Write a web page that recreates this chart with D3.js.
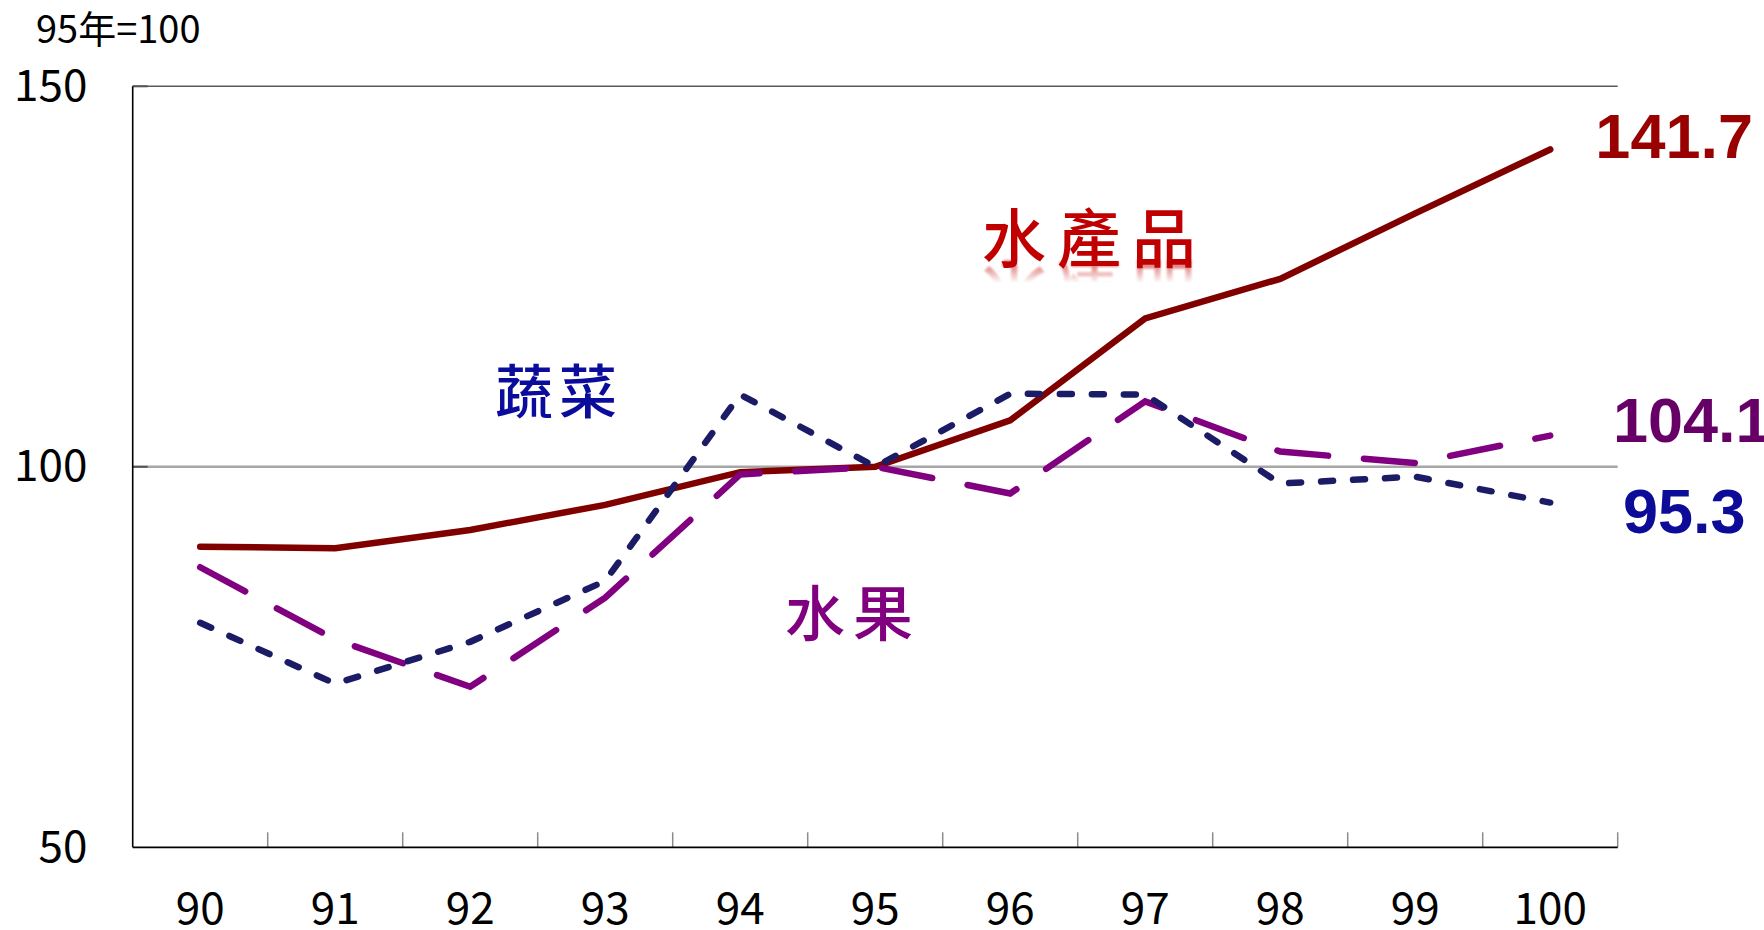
<!DOCTYPE html>
<html>
<head>
<meta charset="utf-8">
<script src="https://cdn.jsdelivr.net/npm/d3@7"></script>
<style>
	html, body { margin: 0; padding: 0; background: #fff; }
	svg { display: block; }
</style>
</head>
<body>
<div id="chart"></div>
<script>
	// data (index, 95年 = 100)
	var years = ["90", "91", "92", "93", "94", "95", "96", "97", "98", "99", "100"];
	var aquatic = [89.5, 89.3, 91.7, 95.0, 99.3, 100, 106.1, 119.5, 124.7, 133.3, 141.7];
	var vegetables = [79.5, 71.5, 77.0, 85.0, 109.5, 100, 109.6, 109.5, 97.8, 98.7, 95.3];
	var fruits = [86.8, 77.3, 71.1, 82.8, 99.0, 100, 96.5, 108.6, 102.0, 100.5, 104.1];
	var yTicks = [50, 100, 150];

	var seriesNames = ["水產品", "蔬菜", "水果"];
	var endLabels = ["141.7", "104.1", "95.3"];

	var options = {
		margin: { top: 86.3, right: 146.3, bottom: 82.7, left: 132.7 },
		width: 1764,
		height: 930
	};

	var margin = options.margin,
		width = options.width - margin.left - margin.right,
		height = options.height - margin.top - margin.bottom;

	var x = d3.scaleBand()
		.domain(years)
		.range([0, width])
		.padding(0);

	var y = d3.scaleLinear()
		.domain([50, 150])
		.range([height, 0]);

	var cx = d => x(d) + x.bandwidth() / 2;

	var svg = d3.select("#chart")
		.append("svg")
		.attr("width", options.width)
		.attr("height", options.height);

	var defs = svg.append("defs");

	var fade = defs.append("linearGradient")
		.attr("id", "fade")
		.attr("x1", 0).attr("y1", 0)
		.attr("x2", 0).attr("y2", 1);
	fade.append("stop").attr("offset", "0%").attr("stop-color", "#fff").attr("stop-opacity", 0);
	fade.append("stop").attr("offset", "62%").attr("stop-color", "#fff").attr("stop-opacity", 0);
	fade.append("stop").attr("offset", "80%").attr("stop-color", "#fff").attr("stop-opacity", 0.45);
	fade.append("stop").attr("offset", "100%").attr("stop-color", "#fff").attr("stop-opacity", 0.6);

	defs.append("mask")
		.attr("id", "reflectMask")
		.attr("maskContentUnits", "objectBoundingBox")
		.append("rect")
		.attr("width", 1).attr("height", 1)
		.attr("fill", "url(#fade)");

	defs.append("filter")
		.attr("id", "soft")
		.append("feGaussianBlur")
		.attr("stdDeviation", 0.8);

	// unit note
	svg.append("text")
		.attr("x", 36)
		.attr("y", 43.3)
		.style("font-family", "'Noto Sans CJK TC', 'Open Sans', sans-serif")
		.style("font-size", "38px")
		.style("fill", "#000")
		.text("95年=100");

	var g = svg.append("g")
		.attr("transform", `translate(${margin.left},${margin.top})`);

	// gridlines: 150 top border and 100 reference line
	g.append("line")
		.attr("x1", 0).attr("x2", width)
		.attr("y1", y(150)).attr("y2", y(150))
		.attr("stroke", "#5a5a5a")
		.attr("stroke-width", 1.5);

	g.append("line")
		.attr("x1", 0).attr("x2", width)
		.attr("y1", y(100)).attr("y2", y(100))
		.attr("stroke", "#a6a6a6")
		.attr("stroke-width", 2.4);

	// small inner ticks on the value axis
	g.selectAll(".yStub")
		.data([100, 150])
		.enter()
		.append("line")
		.attr("class", "yStub")
		.attr("x1", 0).attr("x2", 15)
		.attr("y1", d => y(d)).attr("y2", d => y(d))
		.attr("stroke", "#555")
		.attr("stroke-width", 2);

	// category boundary ticks
	var boundaries = years.map(d => x(d) + x.bandwidth());
	g.selectAll(".xTick")
		.data(boundaries)
		.enter()
		.append("line")
		.attr("class", "xTick")
		.attr("x1", d => d).attr("x2", d => d)
		.attr("y1", height).attr("y2", height - 15)
		.attr("stroke", "#8c8c8c")
		.attr("stroke-width", 1.5);

	// axes
	g.append("line")
		.attr("x1", 0).attr("x2", 0)
		.attr("y1", 0).attr("y2", height)
		.attr("stroke", "#000")
		.attr("stroke-width", 1.6);

	g.append("line")
		.attr("x1", 0).attr("x2", width)
		.attr("y1", height).attr("y2", height)
		.attr("stroke", "#000")
		.attr("stroke-width", 1.8);

	g.selectAll(".yLabel")
		.data(yTicks)
		.enter()
		.append("text")
		.attr("class", "yLabel")
		.attr("x", 87.3 - margin.left)
		.attr("y", d => y(d) + 14.4)
		.attr("text-anchor", "end")
		.style("font-family", "'Noto Sans CJK TC', 'Open Sans', sans-serif")
		.style("font-size", "44px")
		.style("fill", "#000")
		.text(d => d);

	g.selectAll(".xLabel")
		.data(years)
		.enter()
		.append("text")
		.attr("class", "xLabel")
		.attr("x", d => cx(d))
		.attr("y", 924 - margin.top)
		.attr("text-anchor", "middle")
		.style("font-family", "'Noto Sans CJK TC', 'Open Sans', sans-serif")
		.style("font-size", "44px")
		.style("fill", "#000")
		.text(d => d);

	// series lines
	var line = d3.line()
		.x((d, i) => cx(years[i]))
		.y(d => y(d));

	var series = [
		{ values: aquatic, color: "#800000", dash: null },
		{ values: fruits, color: "#800080", dash: "51,36" },
		{ values: vegetables, color: "#1c1c66", dash: "12,20" }
	];

	g.selectAll(".series")
		.data(series)
		.enter()
		.append("path")
		.attr("class", "series")
		.attr("d", d => line(d.values))
		.attr("fill", "none")
		.attr("stroke", d => d.color)
		.attr("stroke-width", 6.5)
		.attr("stroke-linecap", "round")
		.attr("stroke-linejoin", "miter")
		.attr("stroke-dasharray", d => d.dash);

	// end values
	var valueFont = "'Liberation Sans', Arial, sans-serif";
	var ends = [
		{ text: endLabels[0], x: 1753, y: 158.3, anchor: "end", color: "#990000" },
		{ text: endLabels[1], x: 1613, y: 441.7, anchor: "start", color: "#660066" },
		{ text: endLabels[2], x: 1623, y: 533.3, anchor: "start", color: "#0c0c99" }
	];

	svg.selectAll(".endLabel")
		.data(ends)
		.enter()
		.append("text")
		.attr("class", "endLabel")
		.attr("x", d => d.x)
		.attr("y", d => d.y)
		.attr("text-anchor", d => d.anchor)
		.style("font-family", valueFont)
		.style("font-weight", "bold")
		.style("font-size", "63px")
		.style("fill", d => d.color)
		.text(d => d.text);

	// series names
	var cjkFont = "'Noto Sans CJK TC', 'Noto Sans CJK SC', sans-serif";
	var names = [
		{ id: "nameAquatic", text: seriesNames[0], x: 982, y: 234, size: 64, spacing: 11, color: "#c00000", reflect: true },
		{ id: "nameVeg", text: seriesNames[1], x: 495, y: 387.5, size: 58, spacing: 6, color: "#0c0c9c", reflect: false },
		{ id: "nameFruit", text: seriesNames[2], x: 785, y: 609.5, size: 60, spacing: 8, color: "#800080", reflect: false }
	];

	names.forEach(n => {
		svg.append("text")
			.attr("id", n.id)
			.attr("x", n.x)
			.attr("y", n.y)
			.attr("dominant-baseline", "central")
			.style("font-family", cjkFont)
			.style("font-weight", 500)
			.style("font-size", n.size + "px")
			.style("letter-spacing", n.spacing + "px")
			.style("fill", n.color)
			.text(n.text);

		if (n.reflect) {
			// mirrored copy under the text, fading out
			var axisY = n.y + n.size * 0.47;
			svg.append("g")
				.attr("transform", `translate(0,${2 * axisY}) scale(1,-1)`)
				.attr("mask", "url(#reflectMask)")
				.append("use")
				.attr("href", "#" + n.id)
				.attr("filter", "url(#soft)");
		}
	});
</script>
</body>
</html>
